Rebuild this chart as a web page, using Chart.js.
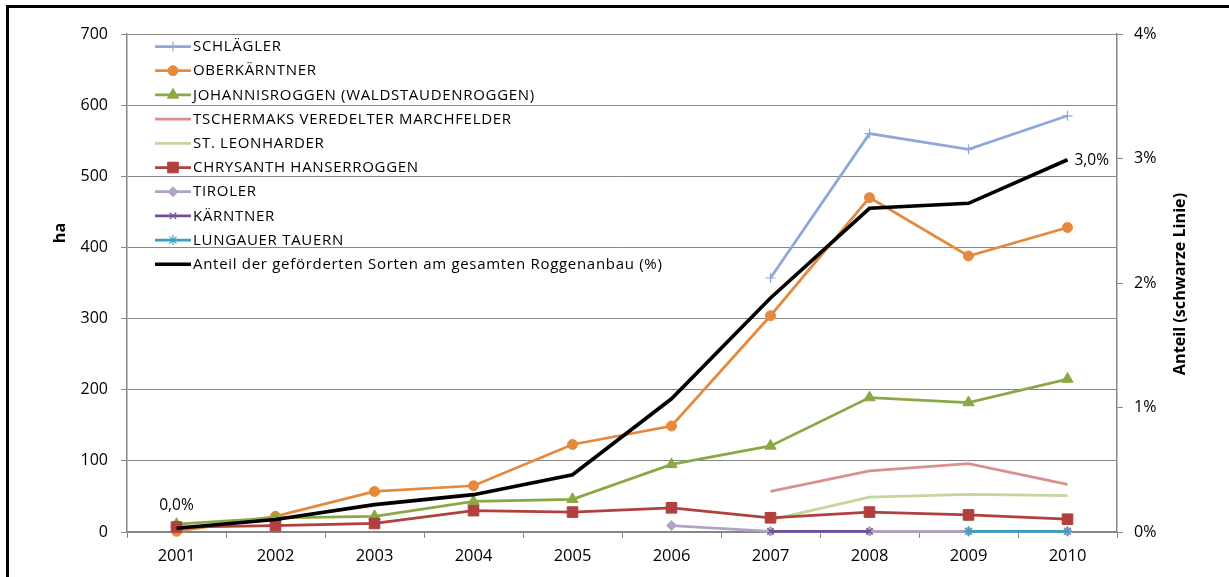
<!DOCTYPE html>
<html>
<head>
<meta charset="utf-8">
<script src="https://cdn.jsdelivr.net/npm/chart.js@4/dist/chart.umd.min.js"></script>
<style>
  html, body { margin: 0; padding: 0; background: #fff; }
  #wrap { position: relative; width: 1229px; height: 577px; overflow: hidden; }
  #frame { position: absolute; left: 6px; top: 5px; width: 3000px; height: 3000px;
           border-left: 3px solid #000; border-top: 3px solid #000; }
  canvas { position: absolute; left: 0; top: 0; }
</style>
</head>
<body>
<div id="wrap">
  <div id="frame"></div>
  <canvas id="c" width="1229" height="577"></canvas>
</div>
<script>
const years = ['2001','2002','2003','2004','2005','2006','2007','2008','2009','2010'];
const leftTicks = [0,100,200,300,400,500,600,700];
const rightTicks = [0,1,2,3,4];

const schlaegler    = [null,null,null,null,null,null,357,560,538,585];
const oberkaerntner = [1,22,57,65,123,149,304,470,388,428];
const johannis      = [11,20,22,43,46,95,121,189,182,215];
const tschermaks    = [null,null,null,null,null,null,57,86,96,67];
const leonharder    = [null,null,null,null,null,null,17,49,53,51];
const chrysanth     = [7,9,12,30,28,34,20,28,24,18];
const tiroler       = [null,null,null,null,null,9,1,1,1,1];
const kaerntner     = [null,null,null,null,null,null,1,1,null,null];
const lungauer      = [null,null,null,null,null,null,null,null,1,1];
const anteil        = [0.03,0.10,0.22,0.30,0.46,1.07,1.88,2.60,2.64,2.99];

const seriesNames = [
  'SCHLÄGLER','OBERKÄRNTNER','JOHANNISROGGEN (WALDSTAUDENROGGEN)',
  'TSCHERMAKS VEREDELTER MARCHFELDER','ST. LEONHARDER','CHRYSANTH HANSERROGGEN',
  'TIROLER','KÄRNTNER','LUNGAUER TAUERN',
  'Anteil der geförderten Sorten am gesamten Roggenanbau (%)'
];
const leftTitle = 'ha';
const rightTitle = 'Anteil (schwarze Linie)';

const FONT = '"Open Sans", Lato, sans-serif';
Chart.defaults.font.family = FONT;
Chart.defaults.color = '#000';

function ds(i, data, color, style, radius, width, axis) {
  return {
    label: seriesNames[i], data: data, yAxisID: axis || 'y',
    borderColor: color, backgroundColor: color,
    pointBackgroundColor: color, pointBorderColor: color,
    pointStyle: style || 'circle', pointRadius: style ? radius : 0,
    pointBorderWidth: (style === 'cross' || style === 'crossRot' || style === 'star') ? 1.2 : 1,
    pointHoverRadius: 0,
    borderWidth: width || 2.75, tension: 0, spanGaps: false,
    order: 20 - i, clip: false
  };
}

const datasets = [
  ds(0, schlaegler, '#8EA9D8', 'cross', 5),
  ds(1, oberkaerntner, '#E5893C', 'circle', 5),
  ds(2, johannis, '#8BA847', 'triangle', 6.5),
  ds(3, tschermaks, '#D9908F', null, 0),
  ds(4, leonharder, '#C3D69B', null, 0),
  ds(5, chrysanth, '#B1403E', 'rect', 7.5),
  ds(6, tiroler, '#B3A2C7', 'rectRot', 5),
  ds(7, kaerntner, '#6E5197', 'crossRot', 4.5),
  ds(8, lungauer, '#3FA0BD', 'star', 5),
  ds(9, anteil, '#000000', null, 0, 3.6, 'y1')
];

function pct(v) { return v.toFixed(1).replace('.', ',') + '%'; }

const extras = {
  id: 'extras',
  afterDatasetsDraw(chart) {
    const ctx = chart.ctx;
    ctx.save();
    // Data labels on the share line
    const meta = chart.getDatasetMeta(9);
    const first = meta.data[0], last = meta.data[meta.data.length - 1];
    ctx.font = '15.5px ' + FONT;
    ctx.fillStyle = '#000';
    ctx.textAlign = 'center';
    ctx.textBaseline = 'middle';
    ctx.fillText(pct(anteil[0]), first.x, first.y - 23);
    ctx.textAlign = 'left';
    ctx.fillText(pct(anteil[anteil.length - 1]), last.x + 7, last.y + 1);

    // Legend inside plot
    const x0 = 155, x1 = 191, tx = 193;
    let y = 46.5;
    const step = 24.2;
    ctx.font = '15px ' + FONT;
    if ('letterSpacing' in ctx) ctx.letterSpacing = '0.7px';
    ctx.textBaseline = 'middle';
    chart.data.datasets.forEach((d) => {
      ctx.strokeStyle = d.borderColor;
      ctx.lineWidth = d.borderWidth;
      ctx.beginPath();
      ctx.moveTo(x0, y); ctx.lineTo(x1, y);
      ctx.stroke();
      if (d.pointRadius > 0) {
        ctx.fillStyle = d.pointBackgroundColor;
        ctx.strokeStyle = d.pointBorderColor;
        ctx.lineWidth = d.pointBorderWidth;
        Chart.helpers.drawPoint(ctx, {pointStyle: d.pointStyle, radius: d.pointRadius, rotation: 0, borderWidth: d.pointBorderWidth}, (x0 + x1) / 2, y);
      }
      ctx.fillStyle = '#000';
      ctx.textAlign = 'left';
      ctx.fillText(d.label, tx, y + 0.5);
      y += step;
    });
    if ('letterSpacing' in ctx) ctx.letterSpacing = '0px';

    // Axis titles
    ctx.font = 'bold 16.2px ' + FONT;
    ctx.textAlign = 'center';
    ctx.textBaseline = 'middle';
    ctx.save();
    ctx.translate(60, 233);
    ctx.rotate(-Math.PI / 2);
    ctx.fillText(leftTitle, 0, 0);
    ctx.restore();
    ctx.save();
    ctx.translate(1180, 284);
    ctx.rotate(-Math.PI / 2);
    ctx.fillText(rightTitle, 0, 0);
    ctx.restore();
    ctx.restore();
  }
};

new Chart(document.getElementById('c'), {
  type: 'line',
  data: { labels: years, datasets: datasets },
  options: {
    responsive: false, devicePixelRatio: 1, animation: false,
    layout: { padding: { top: 34, left: 0, right: 0, bottom: 0 } },
    plugins: { legend: { display: false }, tooltip: { enabled: false } },
    events: [],
    scales: {
      x: {
        type: 'category', offset: true,
        grid: { offset: true, drawOnChartArea: false, drawTicks: true, tickLength: 6, color: '#868686', lineWidth: 1 },
        border: { color: '#868686', width: 1.5 },
        ticks: { font: { size: 16.5 }, padding: 8, maxRotation: 0, autoSkip: false },
        afterFit: (s) => { s.height = 45; }
      },
      y: {
        position: 'left', min: 0, max: 700,
        afterBuildTicks: (s) => { s.ticks = leftTicks.map(v => ({ value: v })); },
        grid: { color: '#868686', lineWidth: 1, tickLength: 6, drawTicks: true },
        border: { color: '#868686', width: 1.5 },
        ticks: { font: { size: 16 }, padding: 13 },
        afterFit: (s) => { s.width = 127; }
      },
      y1: {
        position: 'right', min: 0, max: 4,
        afterBuildTicks: (s) => { s.ticks = rightTicks.map(v => ({ value: v })); },
        grid: { drawOnChartArea: false, color: '#868686', tickLength: 6, drawTicks: true },
        border: { color: '#868686', width: 1.5 },
        ticks: { font: { size: 16 }, padding: 11, callback: (v) => v + '%' },
        afterFit: (s) => { s.width = 112; }
      }
    }
  },
  plugins: [extras]
});
</script>
</body>
</html>
